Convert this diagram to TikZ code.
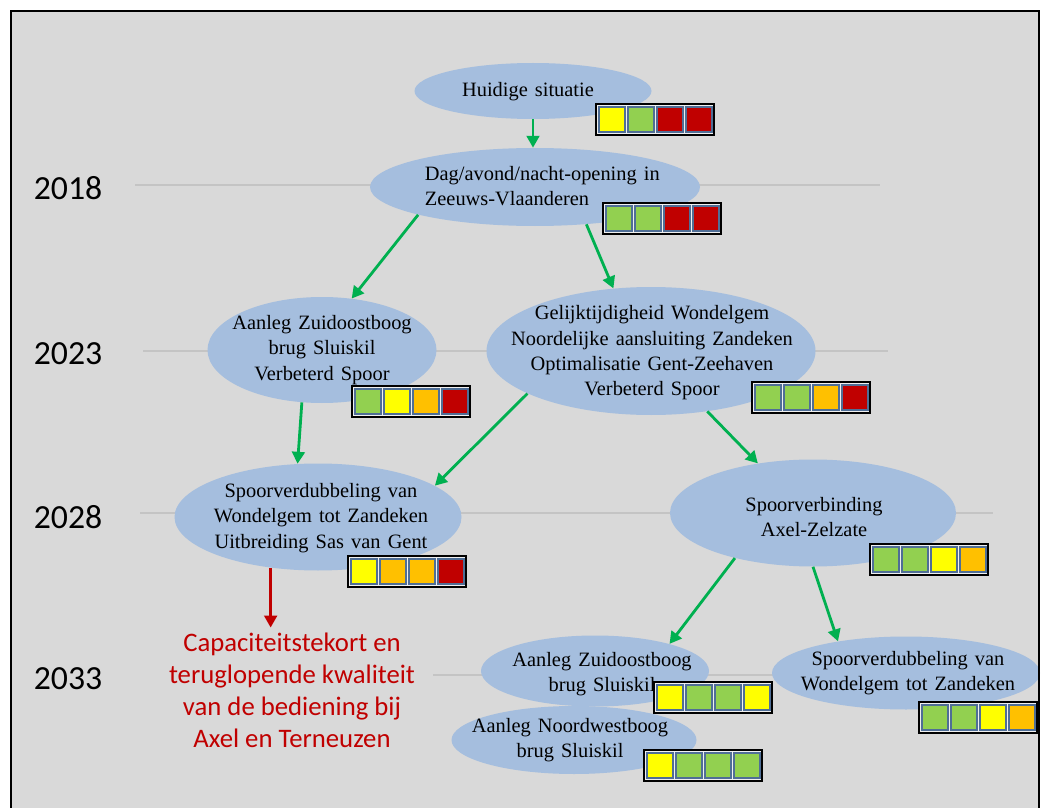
\documentclass[tikz,border=0pt]{standalone}
\usepackage{fontspec}
\setmainfont[WordSpace=1.4]{Liberation Serif}
\newfontfamily\calibrifont{Carlito}
\usepackage{tikz}
\usetikzlibrary{arrows.meta,shapes.geometric,calc}
\usepackage{xcolor}
\definecolor{slidegray}{RGB}{217,217,217}
\definecolor{phaseblue}{RGB}{165,190,222}
\definecolor{linegray}{RGB}{196,196,196}
\definecolor{flowgreen}{RGB}{0,176,80}
\definecolor{alertred}{RGB}{192,0,0}
\definecolor{scoreyellow}{RGB}{255,255,0}
\definecolor{scoregreen}{RGB}{146,208,80}
\definecolor{scoreorange}{RGB}{255,192,0}
\definecolor{scorered}{RGB}{192,0,0}
\definecolor{cellline}{RGB}{79,110,150}

% score bar: top-left corner, then the four cell colours
\newcommand{\scorebar}[6]{%
  \filldraw[fill=gray!12,draw=black,line width=0.9pt] (#1,#2) rectangle ++(118,31);
  \foreach \col [count=\i from 0] in {#3,#4,#5,#6}
    \filldraw[fill=\col,draw=cellline,line width=0.9pt] ({#1+3+\i*29},{#2+3}) rectangle ++(26,25);
}

\begin{document}
\begin{tikzpicture}[x=0.025cm,y=-0.025cm,
    phase/.style={ellipse,fill=phaseblue,inner sep=0pt},
    phasetext/.style={align=center,font=\fontsize{14.5}{18}\selectfont},
    yearlabel/.style={font=\calibrifont\fontsize{24}{28}\selectfont},
    yearline/.style={linegray,line width=1.4pt},
    flow/.style={flowgreen,line width=2pt,-{Triangle[length=8.5pt,width=9pt]}},
    alertflow/.style={alertred,line width=2pt,-{Triangle[length=8.5pt,width=9pt]}}]
  \def\pxl{0.025cm}
  \useasboundingbox (0,0) rectangle (1042,808);
  \clip (0,0) rectangle (1042,808);
  \fill[white] (0,0) rectangle (1042,808);
  \fill[slidegray] (11,11) rectangle (1039,830);

  % time axis
  \draw[yearline] (135,185) -- (880,185);
  \draw[yearline] (143,351) -- (888,351);
  \draw[yearline] (140,513) -- (993,513);
  \draw[yearline] (433,675) -- (990,675);
  \node[yearlabel] (y2018) at (68,188) {2018};
  \node[yearlabel] (y2023) at (68,354) {2023};
  \node[yearlabel] (y2028) at (68,517) {2028};
  \node[yearlabel] (y2033) at (68,679) {2033};

  % phases
  \node[phase,minimum width={237*\pxl},minimum height={56*\pxl}] (now) at (533,91) {};
  \node[phase,minimum width={330*\pxl},minimum height={78*\pxl}] (dag) at (535,187) {};
  \node[phase,minimum width={229*\pxl},minimum height={106*\pxl}] (azb) at (322,350) {};
  \node[phase,minimum width={329*\pxl},minimum height={128*\pxl}] (gel) at (651,351) {};
  \node[phase,minimum width={287*\pxl},minimum height={107*\pxl}] (sv28) at (318,517) {};
  \node[phase,minimum width={286*\pxl},minimum height={107*\pxl}] (axel) at (813,513) {};
  \node[phase,minimum width={228*\pxl},minimum height={71*\pxl}] (azb33) at (595,671) {};
  \node[phase,minimum width={268*\pxl},minimum height={73*\pxl}] (sv33) at (906,673) {};
  \node[phase,minimum width={245*\pxl},minimum height={68*\pxl}] (nwb) at (574,740) {};

  \node[phasetext] at (528,92) {Huidige situatie};
  \node[phasetext,align=left,anchor=west] at (420,186) {Dag/avond/nacht-opening in\\Zeeuws-Vlaanderen};
  \node[phasetext] at (322,350) {Aanleg Zuidoostboog\\brug Sluiskil\\Verbeterd Spoor};
  \node[phasetext] at (652,353) {Gelijktijdigheid Wondelgem\\Noordelijke aansluiting Zandeken\\Optimalisatie Gent-Zeehaven\\Verbeterd Spoor};
  \node[phasetext] at (321,518) {Spoorverdubbeling van\\Wondelgem tot Zandeken\\Uitbreiding Sas van Gent};
  \node[phasetext] at (814,517) {Spoorverbinding\\Axel-Zelzate};
  \node[phasetext] at (602,674) {Aanleg Zuidoostboog\\brug Sluiskil};
  \node[phasetext] at (908,673) {Spoorverdubbeling van\\Wondelgem tot Zandeken};
  \node[phasetext] at (570,740) {Aanleg Noordwestboog\\brug Sluiskil};

  \node[align=center,text=alertred,font=\calibrifont\fontsize{19}{22.8}\selectfont] (deficit) at (292,690)
    {Capaciteitstekort en\\teruglopende kwaliteit\\van de bediening bij\\Axel en Terneuzen};

  % transitions
  \draw[flow] (now.south) -- (now.south |- dag.north);
  \draw[flow] (dag.south west) -- (azb.60);
  \draw[flow] (dag.324) -- (gel.121);
  \draw[flow] (azb.249) -- (sv28.111);
  \draw[flow] (gel.199) -- (sv28.15);
  \draw[flow] (gel.313) -- (axel.138);
  \draw[flow] (axel.210) -- (azb33.20);
  \draw[flow] (axel.south) -- (sv33.155);
  \draw[alertflow] (sv28.227) -- (sv28.227 |- deficit.north);

  % scores
  \scorebar{596}{104}{scoreyellow}{scoregreen}{scorered}{scorered}
  \scorebar{603}{203}{scoregreen}{scoregreen}{scorered}{scorered}
  \scorebar{352}{386}{scoregreen}{scoreyellow}{scoreorange}{scorered}
  \scorebar{752}{382}{scoregreen}{scoregreen}{scoreorange}{scorered}
  \scorebar{348}{556}{scoreyellow}{scoreorange}{scoreorange}{scorered}
  \scorebar{870}{544}{scoregreen}{scoregreen}{scoreyellow}{scoreorange}
  \scorebar{654}{682}{scoreyellow}{scoregreen}{scoregreen}{scoreyellow}
  \scorebar{919}{702}{scoregreen}{scoregreen}{scoreyellow}{scoreorange}
  \scorebar{644}{750}{scoreyellow}{scoregreen}{scoregreen}{scoregreen}

  \draw[black,line width=1.5pt] (11,830) -- (11,11) -- (1039,11) -- (1039,830);
\end{tikzpicture}
\end{document}
